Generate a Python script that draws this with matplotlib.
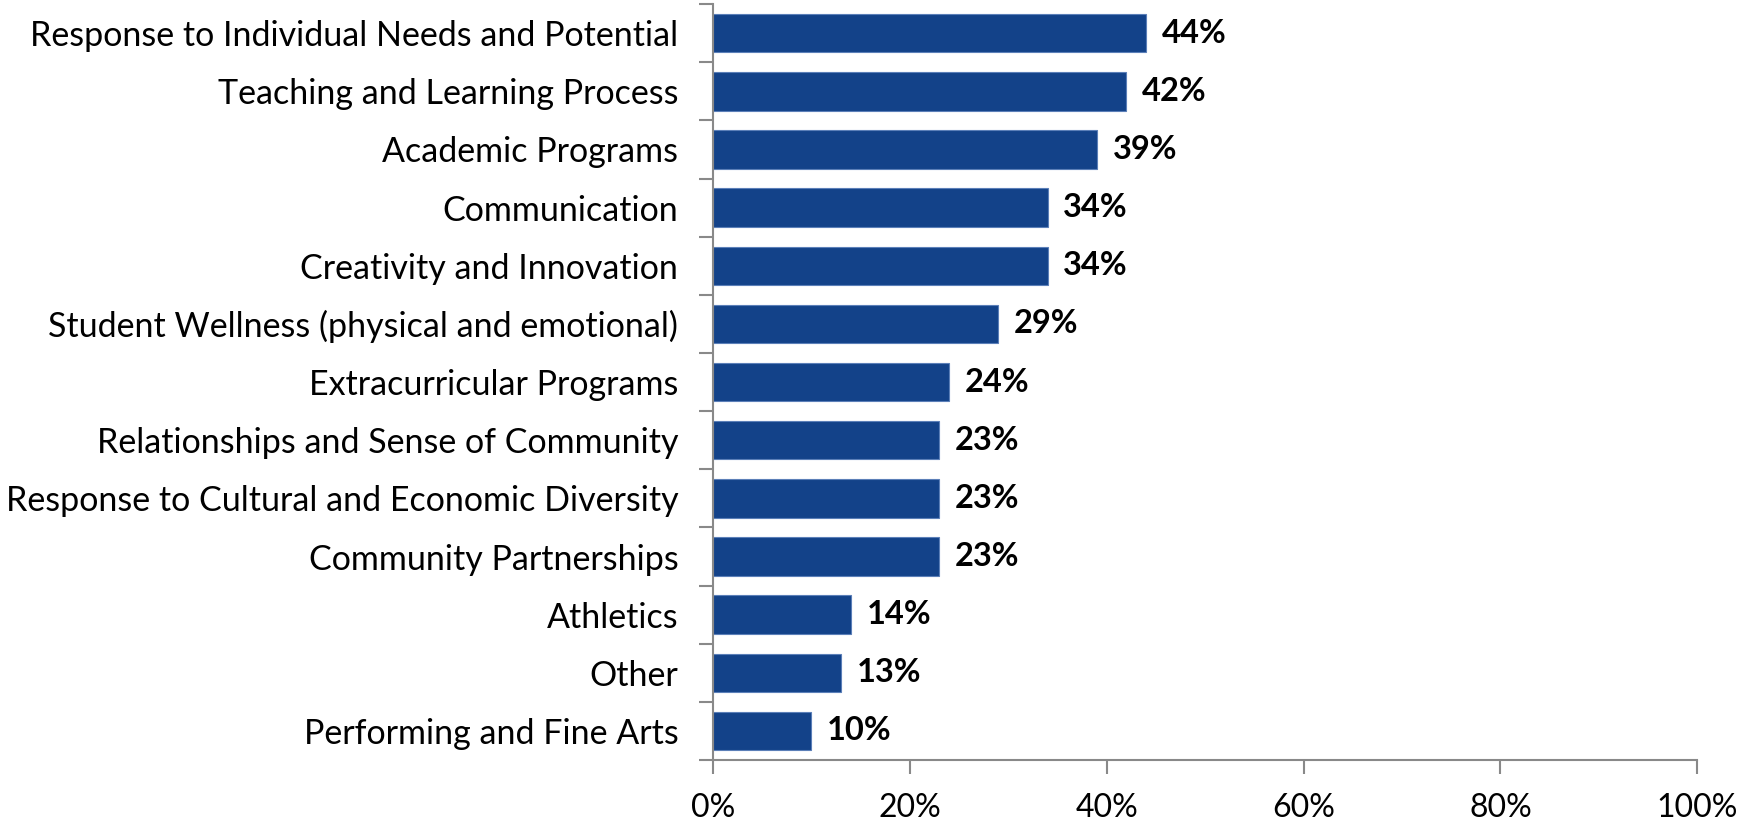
import matplotlib.pyplot as plt
from matplotlib.ticker import FuncFormatter, FixedLocator

categories = [
    'Response to Individual Needs and Potential',
    'Teaching and Learning Process',
    'Academic Programs',
    'Communication',
    'Creativity and Innovation',
    'Student Wellness (physical and emotional)',
    'Extracurricular Programs',
    'Relationships and Sense of Community',
    'Response to Cultural and Economic Diversity',
    'Community Partnerships',
    'Athletics',
    'Other',
    'Performing and Fine Arts',
]
values = [44, 42, 39, 34, 34, 29, 24, 23, 23, 23, 14, 13, 10]

plt.rcParams['font.family'] = ['Lato', 'DejaVu Sans']

fig = plt.figure(figsize=(17.39, 8.22), dpi=100)
ax = fig.add_axes([0.41, 0.0754, 0.566, 0.9196])

y = list(range(len(categories)))[::-1]
bars = ax.barh(y, values, height=0.66, color='#134289', edgecolor='#5b7fb8', linewidth=0.8)

for yi, v in zip(y, values):
    ax.text(v + 1.6, yi, f'{v}%', va='center', ha='left', fontsize=23.5, fontweight='bold')

ax.set_xlim(0, 100)
ax.set_ylim(-0.5, len(categories) - 0.5)
ax.set_xticks([0, 20, 40, 60, 80, 100])
ax.xaxis.set_major_formatter(FuncFormatter(lambda x, p: f'{x:.0f}%'))
ax.set_yticks(y)
ax.set_yticklabels(categories)
ax.yaxis.set_major_locator(FixedLocator(y))
ax.set_yticks([i - 0.5 for i in range(len(categories) + 1)], minor=True)

for s in ['top', 'right']:
    ax.spines[s].set_visible(False)
for s in ['left', 'bottom']:
    ax.spines[s].set_color('#898989')
    ax.spines[s].set_linewidth(1.5)

ax.tick_params(axis='y', which='major', length=0, pad=25, labelsize=24.5)
ax.tick_params(axis='y', which='minor', length=10, width=1.5, color='#898989')
ax.tick_params(axis='x', which='major', length=10, width=1.5, color='#898989', pad=14, labelsize=23)

fig.savefig('out.png', dpi=100)
